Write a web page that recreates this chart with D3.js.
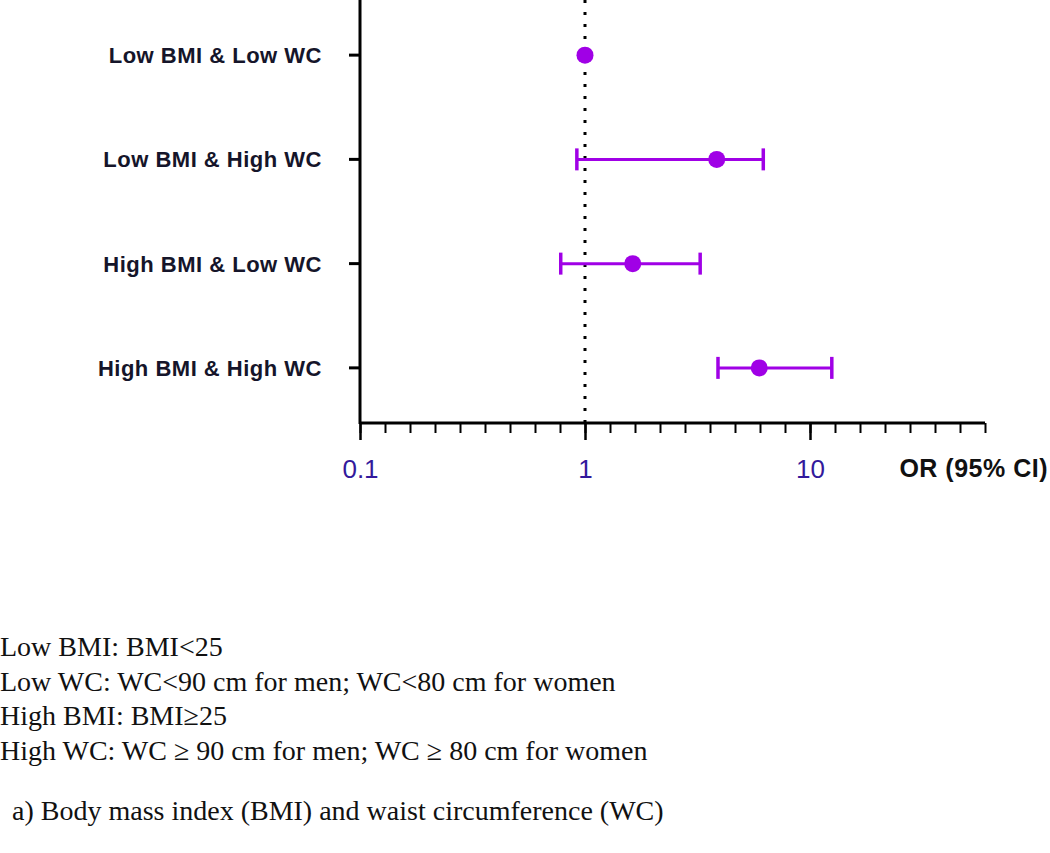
<!DOCTYPE html>
<html>
<head>
<meta charset="utf-8">
<script src="https://cdn.jsdelivr.net/npm/d3@7"></script>
<style>
  body { margin: 0; background: #fff; }
  svg { display: block; }
</style>
</head>
<body>
<div id="chart"></div>
<script>
// odds ratios
const groups = ["Low BMI & Low WC", "Low BMI & High WC", "High BMI & Low WC", "High BMI & High WC"];
const orValues = [1, 3.85, 1.63, 5.95];
const ciLow = [null, 0.92, 0.78, 3.9];
const ciHigh = [null, 6.2, 3.25, 12.5];
const majorTicks = [0.1, 1, 10];
const notes = [
  "Low BMI: BMI<25",
  "Low WC: WC<90 cm for men; WC<80 cm for women",
  "High BMI: BMI\u226525",
  "High WC: WC \u2265 90 cm for men; WC \u2265 80 cm for women"
];
const caption = "a) Body mass index (BMI) and waist circumference (WC)";

const W = 1050, H = 853;
const purple = "#a000e6";

const svg = d3.select("#chart").append("svg")
  .attr("width", W)
  .attr("height", H);

// log axis, 0.1 .. ~60, with 9 evenly spaced (in log) minor ticks per decade
const xMax = Math.pow(10, 1 + 7 / 9);
const x = d3.scaleLog().domain([0.1, xMax]).range([360, 985]);
const y = d3.scaleBand().domain(groups).range([3, 420]);
const axisY = 423;

// minor ticks (the original program spaces them evenly in log space)
const minorTicks = d3.range(-9, 17).map(i => Math.pow(10, i / 9));

const xg = svg.append("g").attr("transform", "translate(0," + axisY + ")");
xg.call(d3.axisBottom(x).tickValues(minorTicks).tickSize(10).tickFormat(""))
  .call(g => g.selectAll(".tick line").attr("stroke", "#000").attr("stroke-width", 2));
xg.append("g")
  .call(d3.axisBottom(x).tickValues(majorTicks).tickSize(17).tickFormat(d3.format("~g")))
  .call(g => g.select(".domain").remove())
  .call(g => g.selectAll(".tick line").attr("stroke", "#000").attr("stroke-width", 2.5))
  .call(g => g.selectAll(".tick text")
    .attr("y", 55)
    .attr("dy", 0)
    .attr("fill", "#33199c")
    .style("font-family", "'Liberation Sans', Arial, sans-serif")
    .style("font-size", "26px"));
xg.select(".domain")
  .attr("stroke", "#000")
  .attr("stroke-width", 3)
  .attr("d", "M" + x.range()[0] + ",0H" + x.range()[1]);

svg.append("text")
  .attr("x", 1048)
  .attr("y", axisY + 54)
  .attr("text-anchor", "end")
  .style("font-family", "'Liberation Sans', Arial, sans-serif")
  .style("font-size", "25px")
  .style("font-weight", "bold")
  .style("letter-spacing", "0.5px")
  .attr("fill", "#111")
  .text("OR (95% CI)");

// y axis with category labels
const yg = svg.append("g").attr("transform", "translate(360,0)");
yg.call(d3.axisLeft(y).tickSize(11).tickSizeOuter(0).tickPadding(27))
  .call(g => g.select(".domain")
    .attr("stroke", "#000")
    .attr("stroke-width", 3)
    .attr("d", "M0,0V" + (axisY + 1)))
  .call(g => g.selectAll(".tick line").attr("stroke", "#000").attr("stroke-width", 3))
  .call(g => g.selectAll(".tick text")
    .attr("fill", "#15152a")
    .attr("dy", "0.36em")
    .style("font-family", "'Liberation Sans', Arial, sans-serif")
    .style("font-size", "22px")
    .style("font-weight", "bold")
    .style("letter-spacing", "0.5px"));

// reference line at OR = 1
svg.append("line")
  .attr("x1", x(1)).attr("x2", x(1))
  .attr("y1", 0).attr("y2", axisY)
  .attr("stroke", "#000")
  .attr("stroke-width", 3)
  .attr("stroke-dasharray", "3,9");

const rows = groups.map((g, i) => ({ g: g, or: orValues[i], lo: ciLow[i], hi: ciHigh[i] }));
const ciRows = rows.filter(d => d.lo != null);

const yc = d => y(d.g) + y.bandwidth() / 2;

svg.selectAll(".ci")
  .data(ciRows)
  .enter().append("line")
  .attr("class", "ci")
  .attr("x1", d => x(d.lo)).attr("x2", d => x(d.hi))
  .attr("y1", yc).attr("y2", yc)
  .attr("stroke", purple)
  .attr("stroke-width", 3);

svg.selectAll(".capL")
  .data(ciRows)
  .enter().append("line")
  .attr("x1", d => x(d.lo)).attr("x2", d => x(d.lo))
  .attr("y1", d => yc(d) - 11).attr("y2", d => yc(d) + 11)
  .attr("stroke", purple)
  .attr("stroke-width", 3.5);

svg.selectAll(".capR")
  .data(ciRows)
  .enter().append("line")
  .attr("x1", d => x(d.hi)).attr("x2", d => x(d.hi))
  .attr("y1", d => yc(d) - 11).attr("y2", d => yc(d) + 11)
  .attr("stroke", purple)
  .attr("stroke-width", 3.5);

svg.selectAll(".pt")
  .data(rows)
  .enter().append("circle")
  .attr("cx", d => x(d.or))
  .attr("cy", yc)
  .attr("r", 8.5)
  .attr("fill", purple);

// footnotes
svg.selectAll(".note")
  .data(notes)
  .enter().append("text")
  .attr("x", 0)
  .attr("y", (d, i) => 656 + i * 34.5)
  .style("font-family", "'Liberation Serif', 'Times New Roman', serif")
  .style("font-size", "28px")
  .attr("fill", "#111")
  .text(d => d);

svg.append("text")
  .attr("x", 12)
  .attr("y", 820)
  .style("font-family", "'Liberation Serif', 'Times New Roman', serif")
  .style("font-size", "28px")
  .attr("fill", "#111")
  .text(caption);
</script>
</body>
</html>
